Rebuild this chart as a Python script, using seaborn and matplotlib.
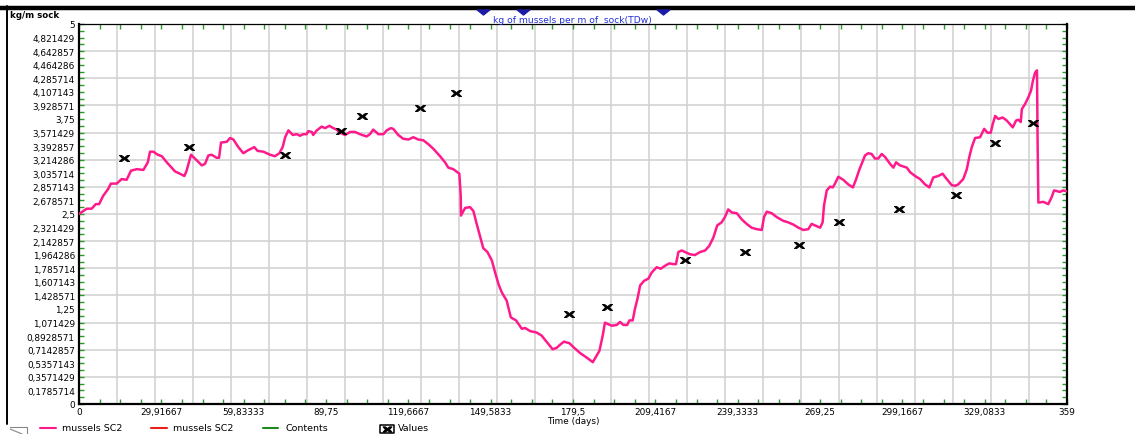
import numpy as np
import pandas as pd
import matplotlib
matplotlib.use("Agg")
import matplotlib.pyplot as plt
from matplotlib.lines import Line2D
from matplotlib.path import Path
from matplotlib.ticker import FixedLocator, FuncFormatter
import seaborn as sns

# Simulated mussel biomass (kg of mussels per m of sock), by day
day = [0.0, 2.8, 4.6, 6.1, 7.3, 8.8, 10.6, 11.6, 13.7, 15.5, 17.3, 18.9, 21.0, 23.4,
       25.0, 25.8, 27.0, 28.6, 30.1, 31.9, 34.9, 36.7, 38.3, 39.1, 40.7, 42.4, 44.6,
       45.8, 47.0, 48.2, 50.0, 50.9, 51.6, 53.7, 54.9, 56.1, 57.9, 59.7, 61.5, 63.7,
       64.9, 67.0, 69.4, 71.2, 72.8, 74.0, 74.9, 76.1, 77.7, 79.1, 80.3, 81.5, 82.7,
       83.3, 84.6, 85.1, 86.4, 88.2, 89.4, 91.0, 92.4, 93.6, 94.8, 96.7, 98.5, 100.3,
       102.1, 104.5, 105.7, 106.9, 107.9, 108.8, 110.6, 111.8, 113.3, 114.2, 116.0,
       117.8, 119.7, 121.5, 123.3, 125.1, 126.9, 128.7, 131.2, 133.0, 134.2, 136.0,
       138.2, 138.7, 138.8, 140.3, 142.1, 143.3, 144.5, 145.7, 146.9, 148.4, 150.0,
       151.2, 152.4, 153.6, 155.4, 156.9, 158.8, 160.9, 162.1, 163.9, 166.3, 168.1,
       169.9, 172.1, 173.6, 174.8, 176.2, 178.2, 179.6, 182.1, 184.5, 186.7, 187.5,
       189.1, 190.3, 191.1, 192.3, 193.6, 195.4, 196.6, 197.8, 199.2, 200.0, 201.2,
       202.0, 202.9, 203.9, 205.3, 206.9, 208.1, 209.9, 211.4, 213.0, 214.5, 216.0,
       216.9, 217.8, 219.0, 220.2, 222.0, 223.8, 225.7, 227.5, 229.0, 230.5, 231.9,
       233.5, 234.7, 235.9, 237.2, 239.0, 240.8, 242.6, 244.4, 246.3, 248.1, 248.9,
       249.9, 251.7, 253.5, 255.9, 257.7, 259.6, 261.4, 263.2, 265.0, 266.2, 267.4,
       269.3, 270.2, 270.7, 271.7, 272.9, 273.9, 274.7, 275.9, 277.7, 279.5, 281.2,
       282.3, 283.6, 284.4, 285.6, 286.8, 288.0, 289.2, 290.4, 291.7, 292.9, 294.7,
       295.9, 296.9, 298.3, 300.8, 302.0, 303.8, 305.6, 307.4, 309.0, 310.4, 312.2,
       313.8, 315.3, 317.1, 318.3, 319.5, 321.3, 322.6, 323.5, 324.4, 325.6, 327.4,
       328.9, 330.1, 331.3, 332.0, 332.9, 334.1, 335.6, 337.1, 339.3, 340.5, 341.3,
       342.2, 342.6, 343.8, 345.0, 345.9, 346.6, 347.4, 348.1, 348.3, 348.6, 350.4,
       352.2, 353.4, 354.3, 355.5, 356.4, 357.6, 358.9]
kg_per_m = [2.50, 2.57, 2.57, 2.63, 2.63, 2.74, 2.83, 2.90, 2.90, 2.96, 2.95, 3.07, 3.09,
            3.08, 3.18, 3.32, 3.32, 3.28, 3.26, 3.18, 3.06, 3.03, 3.00, 3.07, 3.28, 3.22,
            3.14, 3.16, 3.27, 3.28, 3.24, 3.24, 3.44, 3.45, 3.50, 3.48, 3.38, 3.30, 3.34,
            3.38, 3.33, 3.32, 3.28, 3.26, 3.30, 3.38, 3.51, 3.60, 3.54, 3.55, 3.53, 3.55,
            3.55, 3.59, 3.58, 3.54, 3.60, 3.65, 3.63, 3.66, 3.63, 3.61, 3.57, 3.54, 3.58,
            3.58, 3.55, 3.52, 3.55, 3.61, 3.58, 3.55, 3.55, 3.60, 3.63, 3.62, 3.54, 3.49,
            3.48, 3.51, 3.48, 3.47, 3.42, 3.36, 3.26, 3.18, 3.11, 3.09, 3.03, 2.74, 2.48,
            2.58, 2.59, 2.54, 2.37, 2.21, 2.05, 2.00, 1.89, 1.73, 1.58, 1.47, 1.36, 1.14,
            1.10, 0.99, 1.00, 0.96, 0.94, 0.90, 0.82, 0.72, 0.74, 0.78, 0.82, 0.80, 0.75,
            0.67, 0.61, 0.55, 0.60, 0.70, 0.90, 1.07, 1.05, 1.03, 1.04, 1.08, 1.04, 1.04,
            1.10, 1.10, 1.25, 1.38, 1.56, 1.62, 1.65, 1.73, 1.80, 1.78, 1.82, 1.85, 1.84,
            1.84, 2.00, 2.02, 2.00, 1.97, 1.96, 2.00, 2.02, 2.08, 2.19, 2.35, 2.39, 2.46,
            2.56, 2.52, 2.51, 2.43, 2.37, 2.32, 2.30, 2.29, 2.46, 2.53, 2.51, 2.46, 2.41,
            2.39, 2.36, 2.32, 2.29, 2.30, 2.37, 2.35, 2.32, 2.39, 2.61, 2.81, 2.86, 2.85,
            2.90, 2.99, 2.95, 2.89, 2.85, 2.95, 3.09, 3.16, 3.27, 3.30, 3.29, 3.23, 3.23,
            3.29, 3.25, 3.16, 3.11, 3.18, 3.14, 3.11, 3.05, 3.00, 2.96, 2.89, 2.85, 2.98,
            3.00, 3.03, 2.96, 2.88, 2.87, 2.89, 2.96, 3.09, 3.25, 3.38, 3.50, 3.51, 3.62,
            3.57, 3.57, 3.68, 3.79, 3.75, 3.77, 3.73, 3.64, 3.73, 3.74, 3.71, 3.88, 3.95,
            4.04, 4.12, 4.25, 4.36, 4.39, 3.51, 2.65, 2.66, 2.63, 2.72, 2.81, 2.80, 2.79,
            2.81, 2.80]

# Field samples
obs_day = [16.4, 40.1, 74.9, 95.1, 102.8, 123.9, 137.0, 178.1, 191.7, 220.2, 242.0,
           261.8, 276.0, 297.8, 318.7, 333.0, 346.8]
obs_kg = [3.24, 3.38, 3.28, 3.59, 3.79, 3.90, 4.09, 1.19, 1.28, 1.89, 2.00, 2.09,
          2.40, 2.57, 2.75, 3.44, 3.70]

legend_names = ["mussels SC2", "mussels SC2", "Contents", "Values"]
legend_colors = ["#ff1a8c", "#e8201c", "#1f8a1f", "black"]
title = "kg of mussels per m of  sock(TDw)"
y_unit = "kg/m sock"
x_title = "Time (days)"

x_max, y_max = 359, 5
x_label_n, x_grid_n, x_tick_n = 12, 26, 48
y_label_n, y_grid_n, y_tick_n = 28, 14, 56

sim = pd.DataFrame({"day": day, "kg": kg_per_m})
obs = pd.DataFrame({"day": obs_day, "kg": obs_kg})

sns.set_style("white")
plt.rcParams["font.family"] = ["DejaVu Sans"]

W, H = 1135, 435
fig = plt.figure(figsize=(W / 100, H / 100), dpi=100)
fig.patch.set_facecolor("white")


def fx(px):
    return px / W


def fy(py):
    return 1 - py / H


ax = fig.add_axes([fx(79), fy(405), fx(988), 380 / H])
ax.set_facecolor("white")

grid_c = "#d3d3d3"
for v in np.linspace(0, x_max, x_grid_n + 1):
    ax.axvline(v, color=grid_c, lw=1.2, zorder=0)
for v in np.linspace(0, y_max, y_grid_n + 1):
    ax.axhline(v, color=grid_c, lw=1.2, zorder=0)

sns.lineplot(data=sim, x="day", y="kg", ax=ax, color=legend_colors[0], lw=1.8,
             estimator=None, sort=False, zorder=3)

bowtie = Path([(-1, 0.6), (-0.55, 0.6), (0, 0.18), (0.55, 0.6), (1, 0.6), (0.4, 0),
               (1, -0.6), (0.55, -0.6), (0, -0.18), (-0.55, -0.6), (-1, -0.6), (-0.4, 0),
               (-1, 0.6)], closed=True)
sns.scatterplot(data=obs, x="day", y="kg", ax=ax, marker=bowtie, s=55,
                color="black", edgecolor="black", linewidth=0.6, zorder=4)

ax.set_xlim(0, x_max)
ax.set_ylim(0, y_max)
ax.set_xlabel("")
ax.set_ylabel("")

fmt = FuncFormatter(lambda v, p: ("%.7g" % v).replace(".", ","))
ax.xaxis.set_major_locator(FixedLocator(np.linspace(0, x_max, x_label_n + 1)))
ax.xaxis.set_minor_locator(FixedLocator(np.linspace(0, x_max, x_tick_n + 1)))
ax.yaxis.set_major_locator(FixedLocator(np.linspace(0, y_max, y_label_n + 1)))
ax.yaxis.set_minor_locator(FixedLocator(np.linspace(0, y_max, y_tick_n + 1)))
ax.xaxis.set_major_formatter(fmt)
ax.yaxis.set_major_formatter(fmt)
ax.tick_params(which="both", direction="in", length=3.5, width=1.0, color="#2a9a2a",
               top=True, right=True, bottom=True, left=True, labelsize=6.4,
               labelcolor="black")
ax.tick_params(axis="y", which="major", pad=3)
ax.tick_params(axis="x", which="major", pad=2)

for side, lw in (("left", 1.6), ("bottom", 1.6), ("right", 1.6), ("top", 0.9)):
    ax.spines[side].set_visible(True)
    ax.spines[side].set_color("black")
    ax.spines[side].set_linewidth(lw)

# window frame
fig.add_artist(Line2D([0, 1], [fy(9), fy(9)], color="black", lw=3.2,
                      transform=fig.transFigure))
fig.add_artist(Line2D([fx(7), fx(7)], [fy(7), fy(425)], color="black", lw=1.4,
                      transform=fig.transFigure))
fig.add_artist(Line2D([fx(10), fx(27), fx(27)], [fy(428), fy(428), fy(435)],
                      color="#888888", lw=0.8, transform=fig.transFigure))
fig.add_artist(Line2D([fx(10), fx(22)], [fy(430), fy(435)],
                      color="#888888", lw=0.8, transform=fig.transFigure))

# slider markers above the title
tri = Path([(-1, 0.4), (1, 0.4), (0, -0.4), (-1, 0.4)], closed=True)
for px in (483, 523, 663):
    fig.add_artist(Line2D([fx(px)], [fy(12.5)], marker=tri, ms=9, color="#1c1ca8",
                          lw=0, transform=fig.transFigure))

fig.text(fx(572), fy(20.5), title, color="#2330d8", fontsize=6.6,
         ha="center", va="center")
fig.text(fx(10), fy(15), y_unit, color="black", fontsize=6.2, fontweight="bold",
         ha="left", va="center")
fig.text(fx(573), fy(421.5), x_title, color="black", fontsize=6.4,
         ha="center", va="center")

# legend row
ly = fy(428.5)
for (x0, x1, tx), name, col in zip(((40, 56, 62), (151, 167, 173), (263, 278, 285)),
                                   legend_names[:3], legend_colors[:3]):
    fig.add_artist(Line2D([fx(x0), fx(x1)], [ly, ly], color=col, lw=1.5,
                          transform=fig.transFigure))
    fig.text(fx(tx), ly, name, fontsize=6.8, ha="left", va="center", color="black")
box = Path([(-1, -0.6), (1, -0.6), (1, 0.6), (-1, 0.6), (-1, -0.6)], closed=True)
fig.add_artist(Line2D([fx(386.5)], [fy(429.5)], marker=box, ms=9.5, mfc="white",
                      mec="black", mew=1.1, lw=0, transform=fig.transFigure))
fig.add_artist(Line2D([fx(386.5)], [fy(429.5)], marker=bowtie, ms=6, color="black",
                      lw=0, transform=fig.transFigure))
fig.text(fx(398), ly, legend_names[3], fontsize=6.8, ha="left", va="center",
         color="black")

fig.savefig("out.png", dpi=100, facecolor="white")
